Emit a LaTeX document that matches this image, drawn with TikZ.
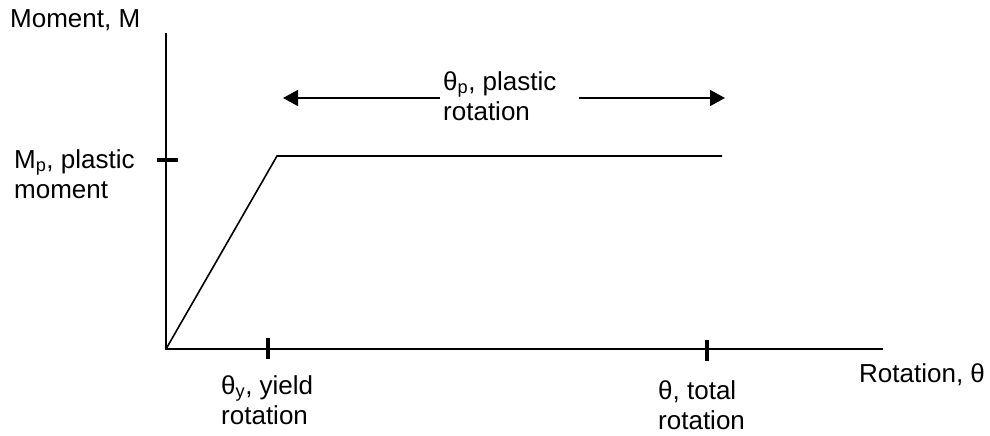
\documentclass[tikz,border=0pt]{standalone}
\usepackage{fontspec}
\setmainfont{Liberation Sans}
\usetikzlibrary{arrows.meta}
\begin{document}
\begin{tikzpicture}[x=1pt,y=-1pt,
  lbl/.style={anchor=base west,inner sep=0pt,align=left,font=\fontsize{26}{30}\selectfont},
  axis/.style={line width=2pt},
  curve/.style={line width=1.6pt},
  tick/.style={line width=3.6pt},
  dimarrow/.style={line width=1.8pt,-{Triangle[length=15pt,width=16pt]}}]
\useasboundingbox (0,0) rectangle (990,436);
% axes
\coordinate (O) at (166,349);
\coordinate (ytop) at (166,33);
\coordinate (xend) at (883,349);
\draw[axis] (ytop) -- (O) -- (xend);
% ticks
\coordinate (mpa) at (157,160);
\coordinate (mpb) at (178,160);
\draw[tick] (mpa) -- (mpb);
\coordinate (tya) at (268,338);
\coordinate (tyb) at (268,359);
\draw[tick] (tya) -- (tyb);
\coordinate (tta) at (707,340);
\coordinate (ttb) at (707,361);
\draw[tick] (tta) -- (ttb);
% moment-rotation curve
\coordinate (Y) at (277,156);
\coordinate (P) at (722,156);
\draw[curve] (O) -- (Y) -- (P);
% plastic rotation arrows
\coordinate (la) at (440,98);
\coordinate (lt) at (283,98);
\coordinate (ra) at (579,98);
\coordinate (rt) at (725,98);
\draw[dimarrow] (la) -- (lt);
\draw[dimarrow] (ra) -- (rt);
% labels (multi-line nodes: base = last line)
\node[lbl] (ylab) at (10,28) {Moment, M};
\node[lbl] (mplab) at (14,198) {M\textsubscript{p}, plastic\\moment};
\node[lbl] (tplab) at (443,120) {θ\textsubscript{p}, plastic\\rotation};
\node[lbl] (tylab) at (221,424) {θ\textsubscript{y}, yield\\rotation};
\node[lbl] (ttlab) at (658,429) {θ, total\\rotation};
\node[lbl] (xlab) at (859,382) {Rotation, θ};
\end{tikzpicture}
\end{document}
